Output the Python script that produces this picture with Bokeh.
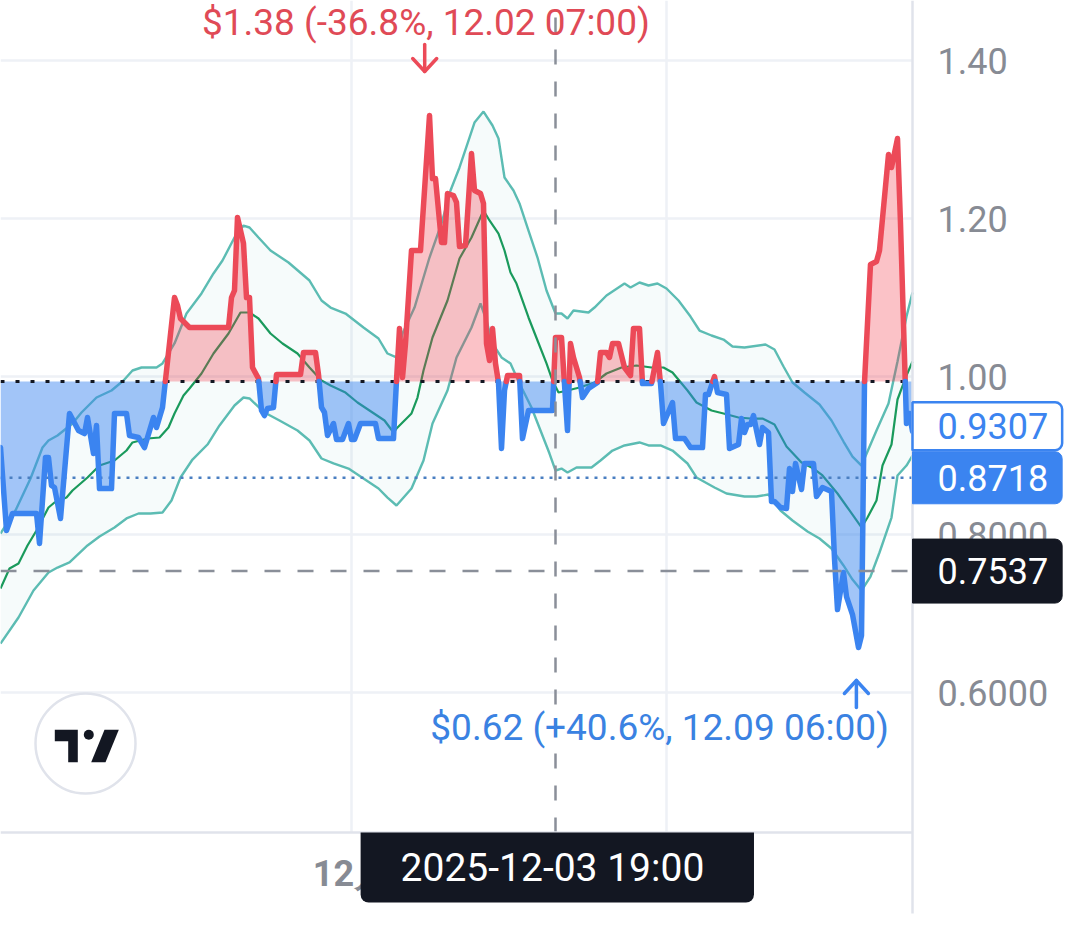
from bokeh.plotting import figure
from bokeh.models import Range1d, FixedTicker, Label, LinearAxis
from bokeh.embed import file_html
from bokeh.resources import INLINE

# ---------------- data ----------------
price_t = [0, 2, 4, 12, 13, 15, 16, 17, 18, 20, 23, 26, 28, 29, 31, 32, 33, 37, 38, 42, 43, 46, 48, 51, 52, 53, 54,
           58, 59, 60, 63, 76, 77, 78, 79, 81, 82, 83, 84, 86, 87, 88, 89, 91, 92, 100, 101, 105, 106, 107, 108, 109,
           111, 112, 114, 116, 117, 118, 120, 125, 126, 131, 132, 133, 134, 135, 137, 140, 143, 144, 145, 147, 148,
           149, 151, 152, 153, 155, 157, 158, 160, 161, 162, 163, 164, 165, 166, 167, 168, 169, 173, 174, 176, 184,
           185, 187, 189, 190, 191, 193, 194, 196, 199, 200, 202, 203, 204, 206, 208, 210, 211, 213, 214, 217, 219,
           220, 221, 224, 225, 228, 230, 234, 235, 236, 238, 239, 242, 243, 246, 247, 248, 249, 250, 251, 252, 253,
           254, 256, 257, 258, 260, 262, 263, 264, 265, 267, 268, 271, 272, 274, 277, 278, 279, 281, 282, 284, 286,
           287, 288, 290, 292, 293, 296, 297, 299, 300, 302, 303, 304]
price_v = [0.9101, 0.8051, 0.8266, 0.8266, 0.7886, 0.8975, 0.8975, 0.8620, 0.8595, 0.8203, 0.9532, 0.9316, 0.9278,
           0.9481, 0.9025, 0.9380, 0.8582, 0.8582, 0.9532, 0.9532, 0.9253, 0.9228, 0.9101, 0.9481, 0.9354, 0.9481,
           0.9608, 1.1000, 1.0899, 1.0734, 1.0620, 1.0620, 1.1000, 1.1089, 1.2013, 1.1684, 1.1000, 1.1000, 1.0114,
           0.9975, 0.9570, 0.9506, 0.9595, 0.9608, 1.0025, 1.0025, 1.0304, 1.0304, 1.0025, 0.9608, 0.9544, 0.9253,
           0.9405, 0.9203, 0.9203, 0.9405, 0.9203, 0.9203, 0.9405, 0.9405, 0.9215, 0.9215, 0.9949, 1.0608, 0.9987,
           1.0418, 1.1595, 1.1595, 1.3304, 1.2506, 1.2506, 1.1696, 1.1696, 1.2316, 1.2291, 1.2203, 1.1646, 1.1658,
           1.2823, 1.2354, 1.2316, 1.2190, 1.0418, 1.0203, 1.0608, 1.0165, 0.9924, 0.9089, 0.9823, 1.0013, 1.0013,
           0.9215, 0.9570, 0.9570, 1.0494, 1.0494, 0.9316, 1.0418, 1.0241, 0.9987, 0.9734, 0.9848, 0.9924, 1.0304,
           1.0304, 1.0241, 1.0418, 1.0418, 1.0114, 1.0013, 1.0608, 1.0608, 0.9911, 0.9911, 1.0304, 0.9911, 0.9405,
           0.9671, 0.9215, 0.9215, 0.9101, 0.9101, 0.9772, 0.9772, 1.0000, 0.9797, 0.9772, 0.9089, 0.9139, 0.9468,
           0.9291, 0.9392, 0.9392, 0.9506, 0.9316, 0.9139, 0.9354, 0.9291, 0.8418, 0.8418, 0.8342, 0.8329, 0.8835,
           0.8544, 0.8899, 0.8570, 0.8899, 0.8899, 0.8481, 0.8595, 0.8544, 0.7696, 0.7051, 0.7519, 0.7215, 0.6987,
           0.6570, 0.6722, 0.9924, 1.1418, 1.1456, 1.1595, 1.2810, 1.2646, 1.3013, 1.1937, 0.9405, 0.9532, 0.9307]

upper_t = [0, 5, 10, 14, 16, 19, 24, 27, 32, 37, 41, 44, 47, 52, 54, 58, 62, 67, 71, 74, 78, 81, 83, 86, 90, 96, 103,
           107, 110, 115, 121, 126, 129, 132, 134, 138, 141, 143, 147, 150, 153, 156, 158, 161, 164, 166, 168, 171,
           173, 176, 179, 182, 185, 187, 189, 191, 196, 198, 202, 208, 210, 213, 216, 219, 222, 226, 230, 233, 237,
           241, 244, 248, 255, 258, 261, 264, 268, 273, 277, 281, 284, 287, 289, 292, 296, 299, 302, 304]
upper_v = [0.8013, 0.8304, 0.8709, 0.9101, 0.9190, 0.9253, 0.9405, 0.9544, 0.9734, 0.9823, 0.9949, 1.0076, 1.0114,
           1.0114, 1.0165, 1.0418, 1.0797, 1.1051, 1.1304, 1.1468, 1.1759, 1.1911, 1.1886, 1.1759, 1.1595, 1.1443,
           1.1215, 1.0962, 1.0873, 1.0797, 1.0620, 1.0481, 1.0291, 1.0241, 1.0544, 1.0873, 1.1253, 1.1506, 1.1937,
           1.2354, 1.2646, 1.2987, 1.3215, 1.3354, 1.3177, 1.3013, 1.2519, 1.2354, 1.2190, 1.1848, 1.1506, 1.1089,
           1.0797, 1.0797, 1.0734, 1.0835, 1.0810, 1.0873, 1.1025, 1.1177, 1.1127, 1.1190, 1.1152, 1.1177, 1.1114,
           1.0962, 1.0759, 1.0582, 1.0519, 1.0468, 1.0380, 1.0367, 1.0405, 1.0342, 1.0127, 0.9924, 0.9797, 0.9646,
           0.9443, 0.9177, 0.8987, 0.8873, 0.9051, 0.9316, 0.9658, 1.0190, 1.0759, 1.1063]

lower_t = [0, 6, 11, 16, 19, 23, 29, 33, 38, 42, 46, 50, 54, 57, 60, 64, 69, 73, 78, 81, 83, 88, 93, 99, 103, 107,
           111, 116, 121, 126, 129, 132, 137, 141, 144, 149, 152, 157, 160, 162, 164, 167, 170, 173, 177, 180, 183,
           185, 187, 189, 192, 197, 200, 204, 208, 213, 216, 220, 224, 229, 232, 238, 242, 248, 252, 256, 260, 264,
           269, 273, 277, 281, 284, 287, 290, 293, 297, 299, 302, 304]
lower_v = [0.6620, 0.6949, 0.7291, 0.7519, 0.7582, 0.7646, 0.7861, 0.7975, 0.8089, 0.8203, 0.8266, 0.8266, 0.8278,
           0.8430, 0.8722, 0.8949, 0.9139, 0.9380, 0.9633, 0.9734, 0.9722, 0.9544, 0.9443, 0.9316, 0.9190, 0.8962,
           0.8899, 0.8835, 0.8709, 0.8582, 0.8468, 0.8367, 0.8582, 0.8937, 0.9405, 0.9823, 1.0241, 1.0620, 1.0924,
           1.0709, 1.0418, 1.0241, 1.0165, 0.9911, 0.9608, 0.9316, 0.9025, 0.8810, 0.8835, 0.8785, 0.8848, 0.8848,
           0.8937, 0.9063, 0.9127, 0.9165, 0.9127, 0.9127, 0.9063, 0.8899, 0.8722, 0.8595, 0.8519, 0.8481, 0.8481,
           0.8506, 0.8304, 0.8177, 0.8038, 0.7949, 0.7823, 0.7608, 0.7430, 0.7291, 0.7468, 0.7772, 0.8215, 0.8747,
           0.8873, 0.9000]

basis_t = [0, 3, 6, 9, 12, 16, 18, 22, 24, 29, 33, 38, 42, 44, 49, 53, 56, 58, 61, 63, 67, 71, 76, 80, 83, 86, 90,
           94, 99, 103, 107, 110, 115, 119, 123, 128, 131, 132, 137, 139, 141, 144, 149, 153, 157, 161, 163, 166, 168,
           170, 172, 176, 179, 182, 184, 186, 189, 193, 198, 202, 207, 212, 217, 221, 224, 229, 232, 237, 241, 246,
           250, 254, 258, 262, 267, 271, 274, 279, 283, 287, 289, 292, 294, 297, 299, 302, 304]
basis_v = [0.7316, 0.7570, 0.7633, 0.7861, 0.8051, 0.8342, 0.8405, 0.8468, 0.8557, 0.8722, 0.8873, 0.8937, 0.9063,
           0.9165, 0.9215, 0.9228, 0.9354, 0.9532, 0.9759, 0.9848, 1.0038, 1.0291, 1.0544, 1.0810, 1.0810, 1.0734,
           1.0544, 1.0418, 1.0291, 1.0114, 0.9949, 0.9886, 0.9797, 0.9671, 0.9570, 0.9443, 0.9291, 0.9342, 0.9532,
           0.9734, 1.0076, 1.0494, 1.0962, 1.1494, 1.1759, 1.2101, 1.1975, 1.1810, 1.1595, 1.1316, 1.1177, 1.0747,
           1.0456, 1.0165, 0.9949, 0.9797, 0.9823, 0.9861, 0.9924, 1.0038, 1.0114, 1.0139, 1.0114, 1.0114, 1.0051,
           0.9823, 0.9671, 0.9570, 0.9532, 0.9481, 0.9468, 0.9468, 0.9392, 0.9114, 0.8911, 0.8835, 0.8747, 0.8519,
           0.8304, 0.8089, 0.8215, 0.8430, 0.8873, 0.9139, 0.9709, 1.0013, 1.0190]

BASE_LEVEL = 0.9937
LAST_PRICE = 0.9307
LINE_PRICE = 0.8718
CROSS_PRICE = 0.7537
CROSS_T = 185

y_ticks = [0.6, 0.8, 1.0, 1.2, 1.4]
y_tick_labels = ["0.6000", "0.8000", "1.00", "1.20", "1.40"]
x_ticks = [117, 222]
x_tick_labels = ["12月", ""]
crosshair_label = "2025-12-03  19:00"
hi_label = "$1.38 (-36.8%, 12.02 07:00)"
lo_label = "$0.62 (+40.6%, 12.09 06:00)"

# ---------------- layout constants ----------------
W, H = 1064, 917
PX_T = 3.0       # pixels per bar
PX_V = 790.0     # pixels per price unit
V_AT_60 = 1.40   # price at pixel row 60


def v_at(py):
    return V_AT_60 - (py - 60) / PX_V


T_END = 304                # last bar / right edge of the chart pane
V_PANE_BOTTOM = v_at(832)  # bottom edge of the chart pane
V_TIME_BOX = v_at(867)
V_BORDER_END = v_at(913)

RED = "#EC4A58"
BLUE = "#3B84F0"
FONT = "Roboto"
GRID = "#EEF1F6"
BORDER = "#E0E3EB"

p = figure(width=W, height=H, output_backend="svg", toolbar_location=None,
           x_range=Range1d(0, W / PX_T), y_range=Range1d(v_at(H), v_at(0)),
           x_axis_location=None, y_axis_location=None,
           min_border=0, min_border_left=0, min_border_right=0, min_border_top=0, min_border_bottom=0,
           background_fill_color="white", border_fill_color="white", outline_line_color=None)
p.grid.visible = False

# grid lines (limited to the chart pane)
p.segment(x0=[0] * len(y_ticks), y0=y_ticks, x1=[T_END] * len(y_ticks), y1=y_ticks,
          line_color=GRID, line_width=2.5)
p.segment(x0=x_ticks, y0=[V_PANE_BOTTOM] * len(x_ticks), x1=x_ticks, y1=[v_at(0)] * len(x_ticks),
          line_color=GRID, line_width=2.5)

# Bollinger band fill + lines
p.patch(upper_t + lower_t[::-1], upper_v + lower_v[::-1], fill_color="#26A69A", fill_alpha=0.045, line_color=None)
p.line(upper_t, upper_v, line_color="#5CBCB3", line_width=2.4)
p.line(lower_t, lower_v, line_color="#5CBCB3", line_width=2.4)
p.line(basis_t, basis_v, line_color="#1A9A5C", line_width=2.2)

# split price series into runs above / below the baseline
runs = []
cur_side = price_v[0] >= BASE_LEVEL
cur_x, cur_y = [price_t[0]], [price_v[0]]
for i in range(1, len(price_t)):
    x0, y0 = price_t[i - 1], price_v[i - 1]
    x1, y1 = price_t[i], price_v[i]
    side = y1 >= BASE_LEVEL
    if side != cur_side:
        f = (BASE_LEVEL - y0) / (y1 - y0)
        xc = x0 + f * (x1 - x0)
        cur_x.append(xc)
        cur_y.append(BASE_LEVEL)
        runs.append((cur_side, cur_x, cur_y))
        cur_x, cur_y = [xc], [BASE_LEVEL]
        cur_side = side
    cur_x.append(x1)
    cur_y.append(y1)
runs.append((cur_side, cur_x, cur_y))

fill_xs = [rx + [rx[-1], rx[0]] for _, rx, _ in runs]
fill_ys = [ry + [BASE_LEVEL, BASE_LEVEL] for _, _, ry in runs]
fill_cols = ["#F23645" if s else "#3D85F0" for s, _, _ in runs]
fill_alph = [0.30 if s else 0.48 for s, _, _ in runs]
p.patches(fill_xs, fill_ys, fill_color=fill_cols, fill_alpha=fill_alph, line_color=None)

# horizontal reference lines (baseline + price line)
p.segment(x0=[0], y0=[BASE_LEVEL], x1=[T_END], y1=[BASE_LEVEL], line_color="#131722", line_width=3,
          line_dash="4 11")
p.segment(x0=[0], y0=[LINE_PRICE], x1=[T_END], y1=[LINE_PRICE], line_color="#4A7FC1", line_width=2.5,
          line_dash="3 6")

# price line
p.multi_line([rx for _, rx, _ in runs], [ry for _, _, ry in runs],
             line_color=[RED if s else BLUE for s, _, _ in runs], line_width=5.5,
             line_join="round", line_cap="round")

# crosshair
p.segment(x0=[CROSS_T], y0=[V_PANE_BOTTOM], x1=[CROSS_T], y1=[v_at(0)], line_color="#8A8F99", line_width=2.5,
          line_dash="15 17")
p.segment(x0=[0], y0=[CROSS_PRICE], x1=[T_END], y1=[CROSS_PRICE], line_color="#8A8F99", line_width=2.5,
          line_dash="16 17")

# axes drawn at fixed locations (price scale on the right, time scale below)
yax = LinearAxis(fixed_location=T_END, bounds=(V_BORDER_END, v_at(0)), ticker=FixedTicker(ticks=y_ticks))
yax.major_label_overrides = dict(zip(y_ticks, y_tick_labels))
yax.axis_line_color = BORDER
yax.axis_line_width = 2.5
yax.major_tick_line_color = None
yax.minor_tick_line_color = None
yax.major_tick_out = 0
yax.major_tick_in = 0
yax.major_label_standoff = 25
yax.major_label_text_font = FONT
yax.major_label_text_font_size = "36px"
yax.major_label_text_color = "#878B94"
p.add_layout(yax, "right")

xax = LinearAxis(fixed_location=V_PANE_BOTTOM, bounds=(0, T_END), ticker=FixedTicker(ticks=x_ticks))
xax.major_label_overrides = dict(zip(x_ticks, x_tick_labels))
xax.axis_line_color = BORDER
xax.axis_line_width = 2.5
xax.major_tick_line_color = None
xax.minor_tick_line_color = None
xax.major_tick_out = 0
xax.major_tick_in = 0
xax.major_label_standoff = 20
xax.major_label_text_font = FONT
xax.major_label_text_font_size = "36px"
xax.major_label_text_font_style = "bold"
xax.major_label_text_color = "#878B94"
p.add_layout(xax, "below")

# high / low annotations
i_hi = price_v.index(max(price_v))
i_lo = price_v.index(min(price_v))
hi_t, hi_v = price_t[i_hi], price_v[i_hi]
lo_t, lo_v = price_t[i_lo], price_v[i_lo]

ax_hi = hi_t - 1.6
tip_hi = hi_v + 44 / PX_V
top_hi = tip_hi + 27 / PX_V
arm_hi = tip_hi + 13 / PX_V
p.multi_line([[ax_hi, ax_hi], [ax_hi - 12 / PX_T, ax_hi, ax_hi + 12 / PX_T]],
             [[top_hi, tip_hi], [arm_hi, tip_hi, arm_hi]],
             line_color=RED, line_width=3.5, line_cap="round", line_join="round")
p.add_layout(Label(x=hi_t - 1.2, y=hi_v + 93 / PX_V, text=hi_label, text_align="center", text_baseline="middle",
                   text_font=FONT, text_font_size="37px", text_color="#E04A56"))

ax_lo = lo_t - 0.7
tip_lo = lo_v - 33 / PX_V
bot_lo = tip_lo - 27 / PX_V
arm_lo = tip_lo - 13 / PX_V
p.multi_line([[ax_lo, ax_lo], [ax_lo - 12 / PX_T, ax_lo, ax_lo + 12 / PX_T]],
             [[bot_lo, tip_lo], [arm_lo, tip_lo, arm_lo]],
             line_color=BLUE, line_width=3.5, line_cap="round", line_join="round")
p.add_layout(Label(x=lo_t - 66.3, y=lo_v - 80 / PX_V, text=lo_label, text_align="center", text_baseline="middle",
                   text_font=FONT, text_font_size="37px", text_color="#3A82E2"))

# TradingView logo
LC_T, LC_V = 85 / PX_T, v_at(743)
p.scatter([LC_T], [LC_V], marker="circle", size=100, fill_color="white", line_color=BORDER, line_width=2.5)


def to_data(pts):
    return [LC_T + dx / PX_T for dx, dy in pts], [LC_V - dy / PX_V for dx, dy in pts]


logo_shapes = [
    [(-30.7, -13.7), (-7.7, -13.7), (-7.7, 18.7), (-17.3, 18.7), (-17.3, -2.3), (-30.7, -2.3)],
    [(19.0, -13.7), (33.3, -13.7), (20.0, 18.7), (5.7, 18.7)],
]
lx, ly = zip(*[to_data(s) for s in logo_shapes])
p.patches(list(lx), list(ly), fill_color="#131722", line_color=None)
dx_, dy_ = to_data([(3.3, -8.7)])
p.scatter(dx_, dy_, marker="circle", size=10, fill_color="#131722", line_color=None)

# price-scale boxes (box starts at the pane border, text inset by the left padding)
common = dict(x=T_END, x_units="data", y_units="data", text_align="left", text_baseline="middle",
              text_font=FONT, text_font_size="36px", level="overlay",
              border_radius=dict(top_left=0, top_right=7, bottom_right=7, bottom_left=0))
p.add_layout(Label(y=LAST_PRICE + 5 / PX_V, text=f"{LAST_PRICE:.4f}", text_color=BLUE,
                   background_fill_color="white", border_line_color=BLUE, border_line_width=2.5,
                   padding=dict(left=25, right=14, top=11, bottom=11), **common))
p.add_layout(Label(y=LINE_PRICE, text=f"{LINE_PRICE:.4f}", text_color="white",
                   background_fill_color=BLUE, border_line_color=BLUE, border_line_width=1,
                   padding=dict(left=25, right=14, top=13, bottom=13), **common))
p.add_layout(Label(y=CROSS_PRICE, text=f"{CROSS_PRICE:.4f}", text_color="white",
                   background_fill_color="#131722", border_line_color="#131722", border_line_width=1,
                   padding=dict(left=25, right=14, top=19, bottom=19), **common))

# crosshair time box
p.add_layout(Label(x=CROSS_T + 0.6, y=V_TIME_BOX, x_units="data", y_units="data", text=crosshair_label,
                   text_align="center", text_baseline="middle", text_font=FONT, text_font_size="39px",
                   text_color="white", background_fill_color="#131722", level="overlay",
                   padding=dict(left=40, right=40, top=12, bottom=12),
                   border_radius=dict(top_left=0, top_right=0, bottom_right=8, bottom_left=8)))

open("out.html", "w").write(file_html(p, INLINE))
